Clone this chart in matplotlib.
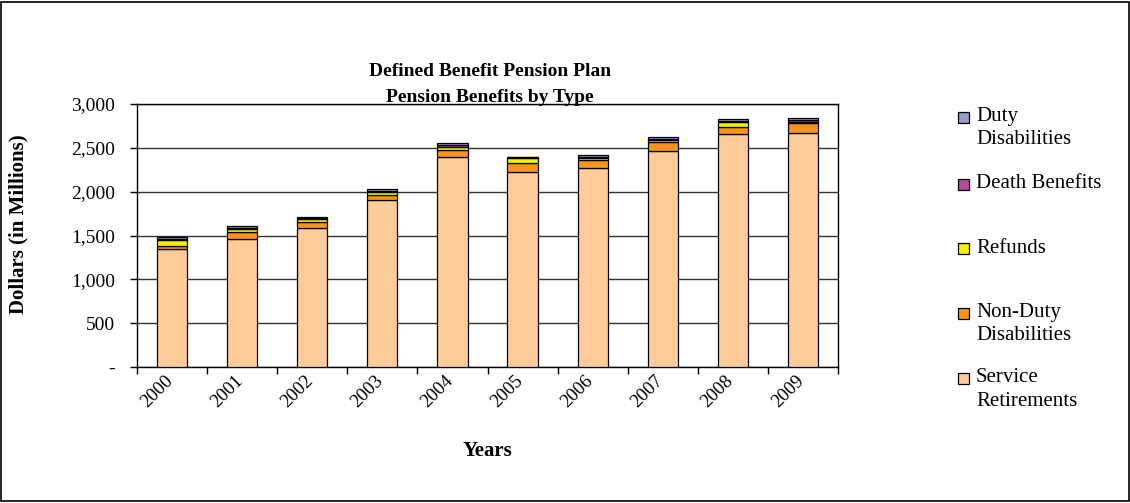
import matplotlib
matplotlib.use("Agg")
import matplotlib.pyplot as plt
from matplotlib.patches import Rectangle
from matplotlib.ticker import FuncFormatter, FixedLocator
import matplotlib.transforms as mtransforms
import numpy as np

plt.rcParams['font.family'] = ['Liberation Serif', 'DejaVu Serif']

years = ['2000', '2001', '2002', '2003', '2004', '2005', '2006', '2007', '2008', '2009']
service_retirements = [1345, 1465, 1585, 1900, 2395, 2228, 2266, 2467, 2654, 2672]
non_duty_disabilities = [40, 75, 70, 65, 85, 95, 95, 95, 87, 106]
refunds = [65, 35, 30, 30, 30, 57, 25, 27, 53, 15]
death_benefits = [15, 15, 15, 18, 20, 10, 15, 15, 15, 22]
duty_disabilities = [15, 15, 15, 17, 20, 10, 15, 15, 15, 22]

series = [
    ('Service\nRetirements', service_retirements, '#FFCC99'),
    ('Non-Duty\nDisabilities', non_duty_disabilities, '#F7941D'),
    ('Refunds', refunds, '#F2F200'),
    ('Death Benefits', death_benefits, '#B84A9E'),
    ('Duty\nDisabilities', duty_disabilities, '#9999CC'),
]

W, H = 1130, 503
fig = plt.figure(figsize=(W / 100, H / 100), dpi=100)
ax = fig.add_axes([137 / W, 1 - 367 / H, (838 - 137) / W, (367 - 104) / H])

x = np.arange(len(years))
bottom = np.zeros(len(years))
for label, vals, col in series:
    vals = np.array(vals, dtype=float)
    ax.bar(x, vals, bottom=bottom, width=0.43, color=col, edgecolor='black',
           linewidth=0.9, zorder=3)
    bottom += vals

ax.set_xlim(-0.5, len(years) - 0.5)
ax.set_ylim(0, 3000)
ax.set_yticks(np.arange(0, 3001, 500))
ax.yaxis.set_major_formatter(FuncFormatter(lambda v, p: '-' if v == 0 else f'{int(v):,}'))
ax.grid(axis='y', color='#333333', linewidth=1.0, zorder=0)
ax.tick_params(axis='y', direction='out', length=5, width=1, labelsize=14, pad=11)

ax.set_xticks(x)
ax.set_xticklabels(years, rotation=45, ha='right', va='top', rotation_mode='anchor', fontsize=13.5)
ax.tick_params(axis='x', which='major', length=0, pad=4)
ax.xaxis.set_minor_locator(FixedLocator(np.arange(-0.5, len(years), 1.0)))
ax.tick_params(axis='x', which='minor', direction='out', length=5, width=1)
offset = mtransforms.ScaledTranslation(-8 / 100, 0, fig.dpi_scale_trans)
for lbl in ax.get_xticklabels():
    lbl.set_transform(lbl.get_transform() + offset)

for sp in ax.spines.values():
    sp.set_linewidth(1.0)
    sp.set_color('black')

fig.text(18 / W, 1 - 224 / H, 'Dollars (in Millions)', rotation=90, ha='center', va='center',
         fontsize=15, fontweight='bold')
fig.text(487 / W, 1 - 451 / H, 'Years', ha='center', va='center', fontsize=15, fontweight='bold')

fig.text(490 / W, 1 - 71 / H, 'Defined Benefit Pension Plan', ha='center', va='center',
         fontsize=14, fontweight='bold')
fig.text(490 / W, 1 - 97 / H, 'Pension Benefits by Type', ha='center', va='center',
         fontsize=14, fontweight='bold')

# Legend (drawn manually, top entry first)
legend_rows = [
    (series[4], 117),
    (series[3], 184),
    (series[2], 248),
    (series[1], 313),
    (series[0], 378),
]
for (label, _, col), ypix in legend_rows:
    fig.patches.append(Rectangle((958 / W, 1 - (ypix + 6) / H), 11 / W, 11 / H,
                                 transform=fig.transFigure, facecolor=col,
                                 edgecolor='black', linewidth=0.9))
    for i, line in enumerate(label.split('\n')):
        fig.text(976 / W, 1 - (ypix + 23 * i) / H, line, ha='left', va='center', fontsize=15)

# Figure border
fig.patches.append(Rectangle((1 / W, 2 / H), (W - 2) / W, (H - 4) / H,
                             transform=fig.transFigure, fill=False,
                             edgecolor='black', linewidth=1.2))

fig.savefig('out.png', dpi=100)
